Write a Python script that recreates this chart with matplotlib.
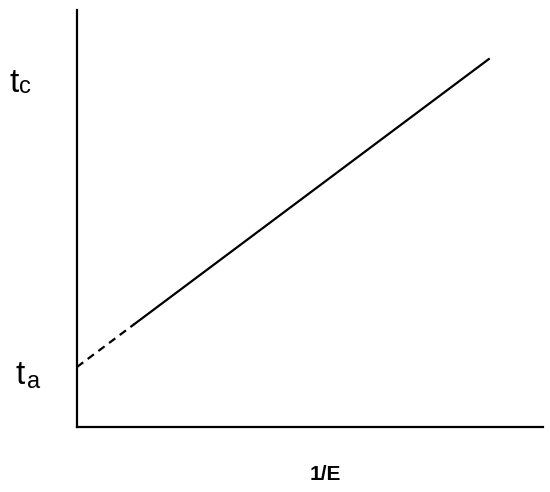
import matplotlib.pyplot as plt

plt.rcParams['font.family'] = ['Liberation Sans', 'DejaVu Sans']

# extrapolated part (dashed) and measured part (solid)
x_dash = [0.0, 0.124]
y_dash = [0.144, 0.2475]
x_solid = [0.124, 0.884]
y_solid = [0.2475, 0.882]

W, H = 550, 492

fig = plt.figure(figsize=(5.5, 4.92), dpi=100)
ax = fig.add_axes([0.14, 0.132, 0.847, 0.848])

ax.plot(x_dash, y_dash, color='black', linestyle=(0, (3.5, 2.5)), linewidth=1.6)
ax.plot(x_solid, y_solid, color='black', linestyle='-', linewidth=1.6)

ax.set_xlim(0, 1)
ax.set_ylim(0, 1)
ax.set_xticks([])
ax.set_yticks([])
for side in ['top', 'right']:
    ax.spines[side].set_visible(False)
for side in ['left', 'bottom']:
    ax.spines[side].set_linewidth(1.6)

# t_c label
fig.text(9 / W, 1 - 92 / H, 't', fontsize=24, ha='left', va='baseline')
fig.text(19 / W, 1 - 93 / H, 'c', fontsize=17, ha='left', va='baseline')
# t_a label
fig.text(16 / W, 1 - 384 / H, 't', fontsize=24, ha='left', va='baseline')
fig.text(27 / W, 1 - 388 / H, 'a', fontsize=17, ha='left', va='baseline')

fig.text(325 / W, 1 - 475 / H, '1/E', fontsize=15, fontweight='bold', ha='center', va='center')

plt.savefig('out.png', dpi=100)
